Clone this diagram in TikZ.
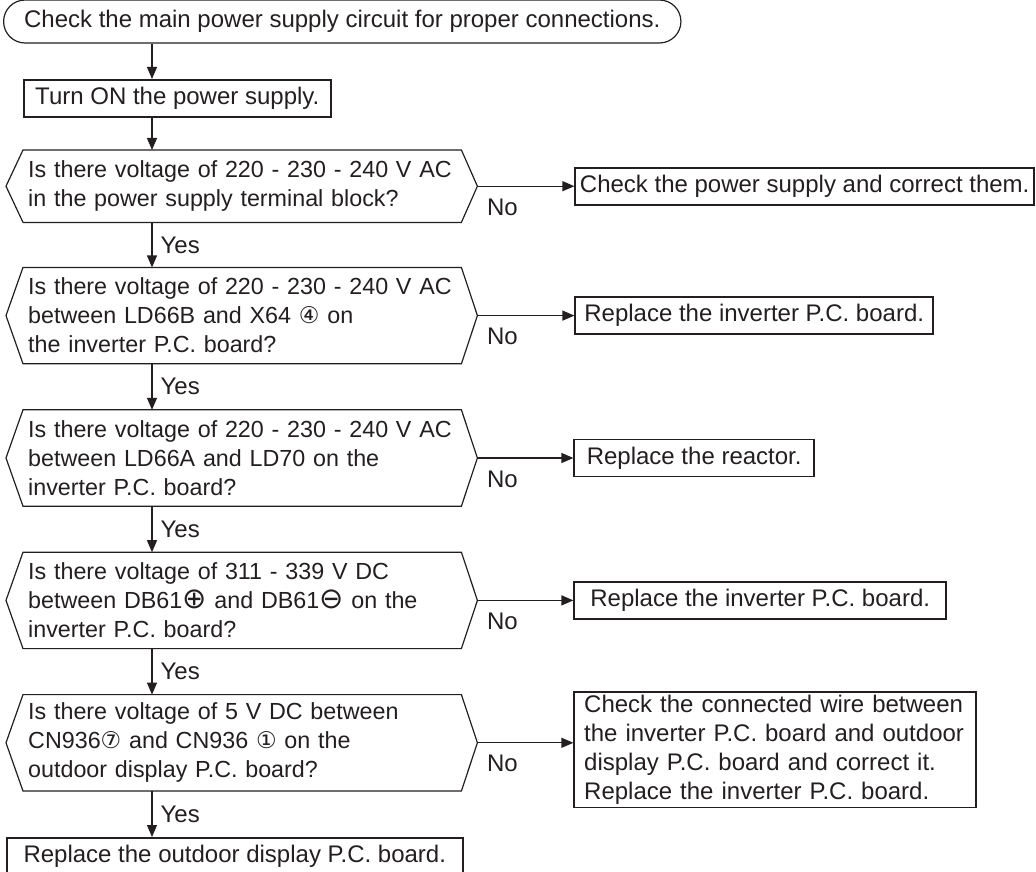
\documentclass[tikz,border=0pt]{standalone}
\usepackage{fontspec}
\setmainfont{Liberation Sans}
\newfontfamily\symfont{DejaVu Sans}
\usepackage{tikz}
\usetikzlibrary{shapes.misc, arrows.meta, positioning}
\definecolor{ink}{RGB}{35,31,32}
\newcommand{\csym}[1]{{\symfont\fontsize{23pt}{29pt}\selectfont #1}}
\newcommand{\cpm}[1]{{\symfont\fontsize{29pt}{29pt}\selectfont #1}}
\tikzset{
  startstop/.style={rounded rectangle, draw=ink, line width=1.2pt, minimum width=684pt, minimum height=43pt, text centered},
  process/.style={rectangle, draw=ink, line width=1.6pt, minimum height=37pt, inner xsep=0pt, inner ysep=3pt, text centered},
  decision/.style={rectangle, minimum width=471pt, minimum height=96pt, text width=427pt, inner xsep=22pt, inner ysep=0pt, align=left, font=\fontsize{23.3pt}{29pt}\selectfont},
  hexline/.style={draw=ink, line width=1.2pt},
  arrowline/.style={-{Triangle[length=12pt, width=10pt]}, draw=ink, line width=1.2pt},
  answer/.style={inner sep=2pt},
}

\begin{document}
\begin{tikzpicture}[x=1pt, y=-1pt, every node/.style={font=\fontsize{24pt}{29pt}\selectfont, text=ink}]
\useasboundingbox (0,0) rectangle (1036,872);
\coordinate (spine) at (152,0);
\node[startstop, anchor=west] (start) at (3,21.5) {Check the main power supply circuit for proper connections.};
\node[process, minimum width=307pt, anchor=north west] (turnon) at (23,79) {Turn ON the power supply.};
\node[decision, minimum height=72pt, anchor=north west] (dec1) at (6,150) {Is there voltage of 220 - 230 - 240 V AC\\in the power supply terminal block?};
\node[decision, below=45pt of dec1] (dec2) {Is there voltage of 220 - 230 - 240 V AC\\between LD66B and X64 \csym{④} on\\the inverter P.C. board?};
\node[decision, below=46pt of dec2] (dec3) {Is there voltage of 220 - 230 - 240 V AC\\between LD66A and LD70 on the\\inverter P.C. board?};
\node[decision, below=46pt of dec3] (dec4) {Is there voltage of 311 - 339 V DC\\between DB61\cpm{⊕} and DB61\cpm{⊖} on the\\inverter P.C. board?};
\node[decision, below=46pt of dec4] (dec5) {Is there voltage of 5 V DC between\\CN936\csym{⑦} and CN936 \csym{①} on the\\outdoor display P.C. board?};
\node[process, minimum width=456pt, below=46pt of dec5.south west, anchor=north west] (final) {Replace the outdoor display P.C. board.};

\node[process, minimum width=459pt, right=97pt of dec1] (fix1) {Check the power supply and correct them.};
\node[process, minimum width=358pt, right=97pt of dec2] (fix2) {Replace the inverter P.C. board.};
\node[process, minimum width=240pt, right=96pt of dec3] (fix3) {Replace the reactor.};
\node[process, minimum width=372pt, right=96pt of dec4] (fix4) {Replace the inverter P.C. board.};
\node[process, minimum width=402pt, text width=382pt, align=left, right=96pt of dec5, yshift=-7pt] (fix5) {Check the connected wire between\\the inverter P.C. board and outdoor\\display P.C. board and correct it.\\Replace the inverter P.C. board.};

% hexagon outlines of the questions
\foreach \d in {dec1,dec2,dec3,dec4,dec5}
  \draw[hexline] (\d.west) -- ([xshift=17pt]\d.north west) -- ([xshift=-16pt]\d.north east) -- (\d.east) -- ([xshift=-16pt]\d.south east) -- ([xshift=17pt]\d.south west) -- cycle;

\draw[arrowline] (start.south -| spine) -- (turnon.north -| spine);
\draw[arrowline] (turnon.south -| spine) -- (dec1.north -| spine);
\draw[arrowline] (dec1.south -| spine) -- node[answer, right=6pt] {Yes} (dec2.north -| spine);
\draw[arrowline] (dec2.south -| spine) -- node[answer, right=6pt] {Yes} (dec3.north -| spine);
\draw[arrowline] (dec3.south -| spine) -- node[answer, right=6pt] {Yes} (dec4.north -| spine);
\draw[arrowline] (dec4.south -| spine) -- node[answer, right=6pt] {Yes} (dec5.north -| spine);
\draw[arrowline] (dec5.south -| spine) -- node[answer, right=6pt] {Yes} (final.north -| spine);

\draw[arrowline] (dec1.east) -- node[answer, pos=0, below right=10pt and 7pt] {No} (fix1);
\draw[arrowline] (dec2.east) -- node[answer, pos=0, below right=10pt and 7pt] {No} (fix2);
\draw[arrowline] (dec3.east) -- node[answer, pos=0, below right=10pt and 7pt] {No} (fix3);
\draw[arrowline] (dec4.east) -- node[answer, pos=0, below right=10pt and 7pt] {No} (fix4);
\draw[arrowline] (dec5.east) -- node[answer, pos=0, below right=10pt and 7pt] {No} (dec5.east -| fix5.west);
\end{tikzpicture}
\end{document}
